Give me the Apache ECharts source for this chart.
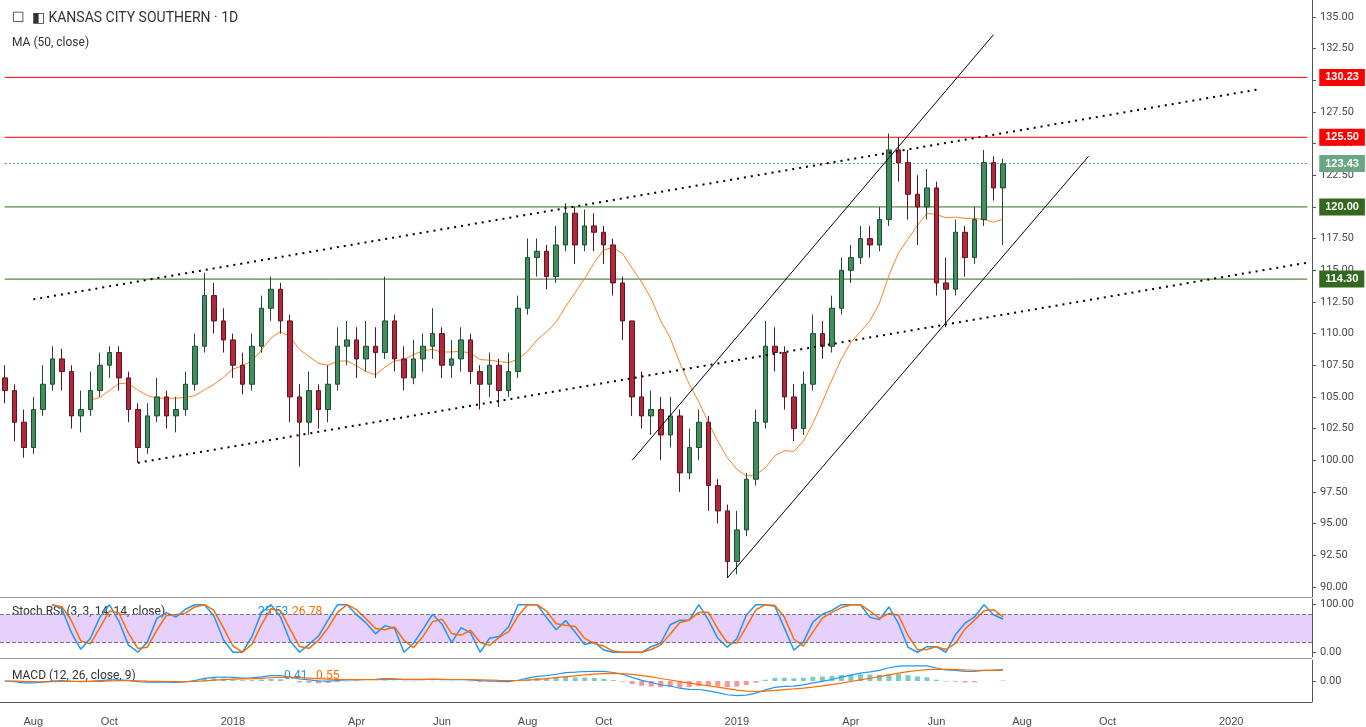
<!DOCTYPE html>
<html>
<head>
<meta charset="utf-8">
<script src="https://cdn.jsdelivr.net/npm/echarts@6/dist/echarts.min.js"></script>
<style>html,body{margin:0;padding:0;background:#fff}#chart{width:1366px;height:727px}</style>
</head>
<body>
<div id="chart"></div>
<script>
// weekly bars: [open, close, low, high]
const candles = [
  [106.5,105.5,104.5,107.5],[105.5,103,101.5,106],[103,101,100.2,104],[101,104,100.5,105],
  [104,106,103.5,107.5],[106,108,105.5,109],[108,107,105.5,108.8],[107,103.5,102.5,107.5],
  [103.5,104,102.2,105.5],[104,105.5,103.5,107],[105.5,107.5,105,108.5],[107.5,108.5,106.5,109],
  [108.5,106.5,105.5,109],[106.5,104,103,107],[104,101,99.8,104.5],[101,103.5,100.5,104.5],
  [103.5,105,103,106.5],[105,103.5,102.5,105.5],[103.5,104,102.2,105],[104,106,103.5,107],
  [106,109,105.5,110],[109,113,108.5,114.8],[113,111,110,114],[111,109.5,108.5,112],
  [109.5,107.5,106.5,110],[107.5,106,105.2,108.5],[106,109,105.5,110],[109,112,108.5,113],
  [112,113.5,111,114.5],[113.5,111,110,114],[111,105,103,111.5],[105,103,99.5,106],
  [103,105.5,102,107],[105.5,104,102.5,106],[104,106,103,107.5],[106,109,105.5,110.5],
  [109,109.5,107.5,111],[109.5,108,106.5,110.5],[108,109,107,111],[109,108.5,106.5,110.5],
  [108.5,111,108,114.5],[111,108,107,111.5],[108,106.5,105.5,109],[106.5,108,106,109.5],
  [108,109,107,110],[109,110,108,112],[110,107.5,106.5,110.5],[107.5,108,106.5,109.5],
  [108,109.5,107,110.5],[109.5,107,106,110],[107,106,104,107.5],[106,107.5,105,108.5],
  [107.5,105.5,104.2,108],[105.5,107,105,108.5],[107,112,106.5,113],[112,116,111.5,117.5],
  [116,116.5,114.5,117.5],[116.5,114.5,113.5,117],[114.5,117,114,118.5],[117,119.5,116.5,120.3],
  [119.5,117,115.5,120],[117,118.5,116.5,119.8],[118.5,118,116.5,119.5],[118,117,115.5,118.5],
  [117,114,113,117.5],[114,111,109.5,114.5],[111,105,103.5,111],[105,103.5,102.5,107],
  [103.5,104,102,105.5],[104,102,100,105],[102,103.5,101,105],[103.5,99,97.5,104],
  [99,101,98.5,102.5],[101,103,100,104],[103,98,96,103.5],[98,96,95,98.5],
  [96,92,90.7,96.5],[92,94.5,91,96],[94.5,98.5,94,99],[98.5,103,98,104],
  [103,109,102.5,111],[109,108.5,107,110.5],[108.5,105,104,109],[105,102.5,101.5,106],
  [102.5,106,102,107],[106,110,105.5,111.5],[110,109,108,111],[109,112,108.5,113],
  [112,115,111.5,116],[115,116,114,117],[116,117.5,115.5,118.5],[117.5,117,116,118.5],
  [117,119,116.5,120],[119,124.5,118.5,125.8],[124.5,123.5,122,125.5],[123.5,121,119,124.5],
  [121,120,117,122.5],[120,121.5,119,123],[121.5,114,113,122],[114,113.5,110.5,116],
  [113.5,118,113,119],[118,116,114.5,118.5],[116,119,115.5,120],[119,123.5,118.5,124.5],
  [123.5,121.5,120.5,124],[121.5,123.4,117,123.8]
];
const weekCount = 138;
const firstWeek = Date.UTC(2017, 6, 17);
const levelsRed = [130.23, 125.5];
const levelsGreen = [120.0, 114.3];
const lastPrice = 123.43;
// trendline endpoints: [week index, price]
const dottedUpper = [[3, 112.7], [132, 129.3]];
const dottedLower = [[14, 99.8], [137, 115.6]];
const channelUpper = [[66, 100.0], [104, 133.6]];
const channelLower = [[76, 90.7], [114, 124.0]];
const priceTicks = [90,92.5,95,97.5,100,102.5,105,107.5,110,112.5,115,117.5,120,122.5,125,127.5,130,132.5,135];
const monthNames = ['Jan','Feb','Mar','Apr','May','Jun','Jul','Aug','Sep','Oct','Nov','Dec'];

const dates = [];
for (let i = 0; i < weekCount; i++) dates.push(firstWeek + i * 7 * 86400000);
const cats = dates.map(String);
const closes = candles.map(c => c[1]);

function sma(arr, n) {
  return arr.map((v, i) => {
    if (i < n - 1) return '-';
    let s = 0; for (let j = i - n + 1; j <= i; j++) s += arr[j];
    return +(s / n).toFixed(2);
  });
}
function ema(arr, n) {
  const k = 2 / (n + 1); let out = [], prev = arr[0];
  arr.forEach((v, i) => { prev = i === 0 ? v : v * k + prev * (1 - k); out.push(prev); });
  return out;
}
function rsi(arr, n) {
  const out = [null]; let g = 0, l = 0;
  for (let i = 1; i < arr.length; i++) {
    const d = arr[i] - arr[i - 1];
    g = (g * (n - 1) + Math.max(d, 0)) / n;
    l = (l * (n - 1) + Math.max(-d, 0)) / n;
    out.push(l === 0 ? 100 : 100 - 100 / (1 + g / l));
  }
  return out;
}
const r = rsi(closes, 4);
const stochRaw = r.map((v, i) => {
  if (i < 5) return null;
  const w = r.slice(i - 4, i + 1);
  const mn = Math.min(...w), mx = Math.max(...w);
  return mx === mn ? 50 : (v - mn) / (mx - mn) * 100;
});
function smooth(arr, n) {
  return arr.map((v, i) => {
    const w = arr.slice(Math.max(0, i - n + 1), i + 1).filter(x => x != null);
    return v == null || !w.length ? '-' : +(w.reduce((a, b) => a + b, 0) / w.length).toFixed(2);
  });
}
const kLine = smooth(stochRaw, 2);
const dLine = smooth(kLine.map(v => v === '-' ? null : v), 2);
const e12 = ema(closes, 12), e26 = ema(closes, 26);
const macd = e12.map((v, i) => v - e26[i]);
const sig = ema(macd, 9);
const hist = macd.map((v, i) => v - sig[i]);

const chart = echarts.init(document.getElementById('chart'));
const axisLbl = { color: '#4a4a4a', fontSize: 11, fontFamily: 'Roboto' };
const xBase = { type: 'category', data: cats, boundaryGap: true, axisLine: { show: false }, axisTick: { show: false }, axisLabel: { show: false }, splitLine: { show: false } };
const lineSeries = (pts, dotted) => ({
  type: 'line', data: pts, symbol: 'none', silent: true, z: 5,
  lineStyle: { color: '#000', width: dotted ? 2 : 1, type: dotted ? [2, 5] : 'solid' }
});
// horizontal level as a flat two-point line with a price box at its end
const levelSeries = (v, col, bg, dashed) => ({
  type: 'line', data: [[0, v], [weekCount - 1, v]], symbol: 'none', silent: true, z: 3,
  itemStyle: { color: col },
  lineStyle: { color: col, type: dashed ? [2, 2] : 'solid', width: 1 },
  endLabel: { show: true, formatter: v.toFixed(2), color: '#fff', backgroundColor: bg, padding: [3, 6], fontSize: 11, fontWeight: 'bold', distance: 12 }
});

chart.setOption({
  animation: false,
  grid: [
    { left: 0, right: 54, top: 0, height: 597 },
    { left: 0, right: 54, top: 599, height: 58 },
    { left: 0, right: 54, top: 660, height: 42 }
  ],
  xAxis: [
    Object.assign({ gridIndex: 0 }, xBase),
    Object.assign({ gridIndex: 1 }, xBase),
    Object.assign({}, xBase, {
      gridIndex: 2,
      axisLabel: {
        show: true, color: '#4a4a4a', fontSize: 11, margin: 14,
        interval: (i) => { const d = new Date(dates[i]); return d.getUTCDate() <= 7 && [0, 3, 5, 7, 9].includes(d.getUTCMonth()); },
        formatter: (v) => { const d = new Date(+v); return d.getUTCMonth() === 0 ? String(d.getUTCFullYear()) : monthNames[d.getUTCMonth()]; }
      }
    })
  ],
  yAxis: [
    { gridIndex: 0, position: 'right', min: 89.2, max: 136.34, axisLine: { show: true, lineStyle: { color: '#555' } },
      axisTick: { show: true, customValues: priceTicks, length: 4, lineStyle: { color: '#555' } },
      axisLabel: Object.assign({ customValues: priceTicks, formatter: v => v.toFixed(2) }, axisLbl), splitLine: { show: false } },
    { gridIndex: 1, position: 'right', min: -10, max: 112, axisLine: { show: true, lineStyle: { color: '#555' } },
      axisTick: { show: true, customValues: [0, 100], length: 4 },
      axisLabel: Object.assign({ customValues: [0, 100], formatter: v => v.toFixed(2) }, axisLbl), splitLine: { show: false } },
    { gridIndex: 2, position: 'right', min: -6, max: 6, axisLine: { show: true, lineStyle: { color: '#555' } },
      axisTick: { show: true, customValues: [0], length: 4 },
      axisLabel: Object.assign({ customValues: [0], formatter: v => v.toFixed(2) }, axisLbl), splitLine: { show: false } }
  ],
  series: [
    {
      type: 'candlestick', data: candles, barWidth: 5, z: 4,
      itemStyle: { color: '#3f8f5f', color0: '#b3283a', borderColor: '#1f4a30', borderColor0: '#5c1520' }
    },
    levelSeries(levelsRed[0], '#ff0000', '#ff0000'),
    levelSeries(levelsRed[1], '#ff0000', '#ff0000'),
    levelSeries(levelsGreen[0], '#33691e', '#33691e'),
    levelSeries(levelsGreen[1], '#33691e', '#33691e'),
    levelSeries(lastPrice, '#4f9a74', '#6aa884', true),
    { type: 'line', data: sma(closes, 10), symbol: 'none', lineStyle: { color: '#ff7f27', width: 1 }, z: 4 },
    lineSeries(dottedUpper, true), lineSeries(dottedLower, true),
    lineSeries(channelUpper, false), lineSeries(channelLower, false),
    { type: 'line', xAxisIndex: 1, yAxisIndex: 1, data: kLine, symbol: 'none', lineStyle: { color: '#2196f3', width: 1.5 },
      markArea: { silent: true, itemStyle: { color: 'rgba(190,120,250,0.35)' }, data: [[{ yAxis: 20 }, { yAxis: 80 }]] },
      markLine: { symbol: 'none', silent: true, label: { show: false }, lineStyle: { color: '#777', type: 'dashed', width: 1 }, data: [{ yAxis: 20 }, { yAxis: 80 }] } },
    { type: 'line', xAxisIndex: 1, yAxisIndex: 1, data: dLine, symbol: 'none', lineStyle: { color: '#ff6d00', width: 1.5 } },
    { type: 'bar', xAxisIndex: 2, yAxisIndex: 2, data: hist.map(v => ({ value: +v.toFixed(3), itemStyle: { color: v >= 0 ? 'rgba(38,166,154,0.6)' : 'rgba(239,83,80,0.6)' } })), barWidth: 5 },
    { type: 'line', xAxisIndex: 2, yAxisIndex: 2, data: macd.map(v => +v.toFixed(3)), symbol: 'none', lineStyle: { color: '#2196f3', width: 1.2 } },
    { type: 'line', xAxisIndex: 2, yAxisIndex: 2, data: sig.map(v => +v.toFixed(3)), symbol: 'none', lineStyle: { color: '#ff6d00', width: 1.2 } }
  ],
  graphic: [
    { type: 'rect', left: 0, top: 597, shape: { width: 1312, height: 1 }, style: { fill: '#999' } },
    { type: 'rect', left: 0, top: 658, shape: { width: 1312, height: 1 }, style: { fill: '#999' } },
    { type: 'rect', left: 0, top: 702, shape: { width: 1312, height: 1 }, style: { fill: '#555' } },
    { type: 'text', left: 12, top: 11, style: { text: '☐  ◧ KANSAS CITY SOUTHERN · 1D', fill: '#333', font: '14px Roboto' } },
    { type: 'text', left: 12, top: 37, style: { text: 'MA (50, close)', fill: '#333', font: '12px Roboto' } },
    { type: 'text', left: 12, top: 606, style: { text: 'Stoch RSI (3, 3, 14, 14, close)', fill: '#333', font: '12px Roboto' } },
    { type: 'text', left: 258, top: 606, style: { text: '25.53', fill: '#2196f3', font: '12px Roboto' } },
    { type: 'text', left: 292, top: 606, style: { text: '26.78', fill: '#ff6d00', font: '12px Roboto' } },
    { type: 'text', left: 12, top: 670, style: { text: 'MACD (12, 26, close, 9)', fill: '#333', font: '12px Roboto' } },
    { type: 'text', left: 284, top: 670, style: { text: '0.41', fill: '#2196f3', font: '12px Roboto' } },
    { type: 'text', left: 316, top: 670, style: { text: '0.55', fill: '#ff6d00', font: '12px Roboto' } }
  ]
});
</script>
</body>
</html>
